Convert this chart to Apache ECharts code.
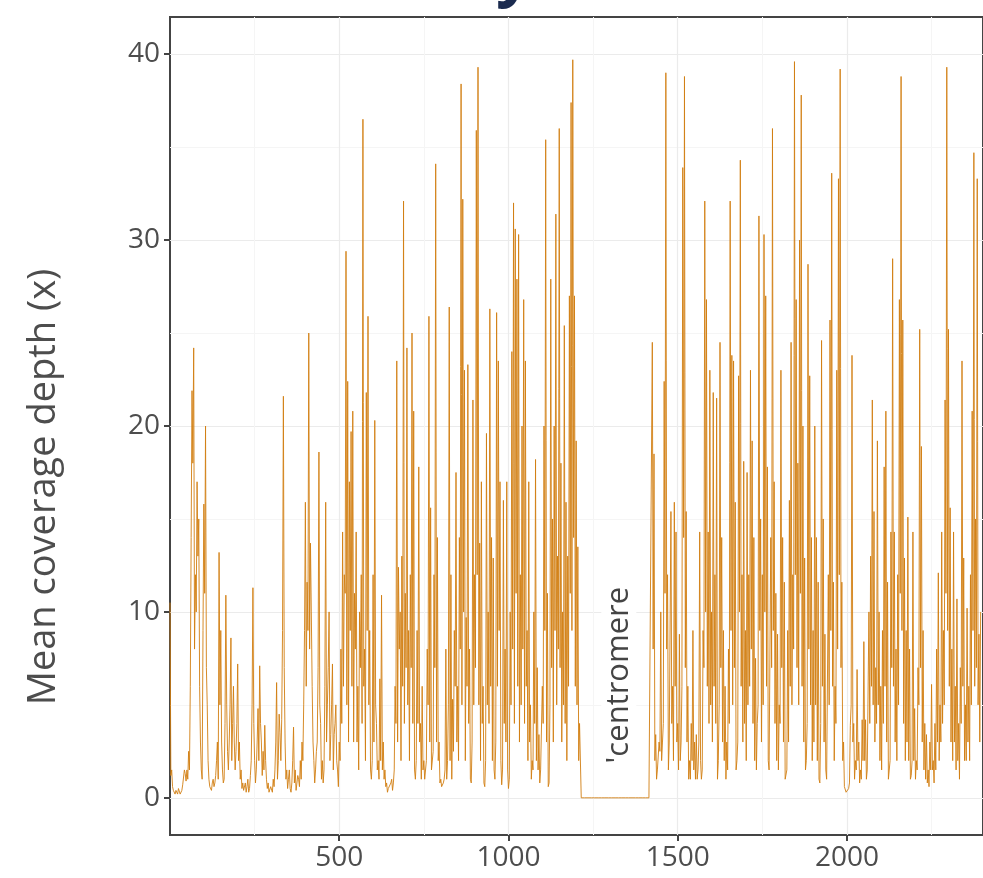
<!DOCTYPE html>
<html>
<head>
<meta charset="utf-8">
<script src="https://cdn.jsdelivr.net/npm/echarts@6/dist/echarts.min.js"></script>
<style>
html, body { margin: 0; padding: 0; background: #fff; }
#chart { width: 983px; height: 878px; }
</style>
</head>
<body>
<div id="chart"></div>
<script>
// bins are 5 units apart, with a read-off value half way between each pair
var binStep = 5;

// short arm, bins 0 .. 1210
var pArmDepth = [
	10.5, 1.5, 0.4, 0.2, 0.3, 0.5, 0.2, 0.4, 0.8, 1.3,
	1.5, 2.5, 6, 21.9, 24.2, 12, 17, 15, 3, 1,
	15.8, 20, 5, 1, 0.5, 0.8, 0.6, 1.2, 3, 13.2,
	9, 1.5, 1, 10.9, 2.5, 3, 8.6, 4, 3, 2.5,
	7.2, 3, 1.5, 0.8, 0.5, 0.3, 1, 0.5, 2, 11.3,
	2, 1.5, 4.8, 7.1, 3, 2.5, 3.9, 1, 0.8, 0.4,
	0.5, 1, 1.5, 6.2, 2, 3.5, 4.2, 21.6, 3, 1.5,
	1, 0.5, 0.8, 3.8, 1.5, 0.5, 1, 2, 3, 5,
	15.9, 11.6, 25, 13.7, 6, 2, 1.5, 3, 18.6, 4,
	2, 1.5, 15.9, 5, 10, 3.4, 7.2, 3.4, 5, 1.5,
	3, 8, 14.3, 12, 29.4, 22.4, 17, 19.7, 20.8, 11,
	14.3, 6, 10, 12, 36.5, 8, 21.8, 25.9, 9, 1,
	12, 20.3, 4, 2, 6.4, 10.9, 3, 1.5, 0.8, 0.5,
	0.6, 1, 0.8, 6, 23.5, 12.4, 10, 13, 32.1, 11,
	24.2, 9, 12, 25, 20.8, 1, 9, 17.8, 4, 6,
	2, 1, 8, 25.9, 15.6, 1.5, 12, 34.1, 14, 3,
	1, 0.5, 1, 8, 2, 26.4, 12, 5.3, 9, 17.5,
	6, 14, 38.4, 32.2, 23, 9.7, 23.3, 8, 0.8, 21.4,
	12, 35.9, 39.3, 13.7, 17, 6, 0.6, 19.6, 10, 26.3,
	14, 12.9, 1, 26.1, 23.5, 17, 0.7, 16, 8, 17,
	0.5, 10, 24, 32, 30.6, 27.9, 30.3, 12, 20, 26.8,
	23.5, 9, 17, 5, 2, 10, 18.2, 7, 3.4, 1.5,
	6, 20, 35.4, 11, 0.8, 27.9, 15, 20, 31.4, 13,
	36, 18, 10, 25.4, 15.9, 13, 27, 37.4, 39.7, 27,
	19.2, 13.5, 4
];
// short arm, half-way bins 2.5 .. 1207.5
var pArmMid = [
	1.2, 0.6, 0.3, 0.4, 0.2, 0.6, 0.3, 0.7, 1.5, 0.9,
	1, 1.5, 14, 18, 8, 10, 13, 6, 1.5, 9,
	11, 7, 2, 0.6, 0.4, 1, 0.8, 2, 1, 5,
	3, 0.8, 4, 5, 1.5, 5, 2, 6, 1.5, 4,
	2, 1, 0.5, 0.4, 0.8, 0.6, 0.3, 1.2, 5, 4,
	0.8, 3, 2, 4, 1.2, 1.5, 2, 0.5, 0.3, 0.6,
	0.3, 0.6, 3, 1, 4.5, 2, 9, 7, 1, 0.5,
	1.5, 0.3, 2, 0.8, 0.4, 1.2, 0.6, 1, 2, 9,
	6, 9, 8, 10, 3, 0.8, 2.5, 7, 5, 1,
	0.8, 6, 3, 7, 2, 5, 1.5, 4, 2, 0.6,
	2, 4, 6, 11, 5, 3, 9, 6, 3, 8,
	3, 1.5, 7, 4, 6, 2, 9, 5, 1.5, 2,
	3, 5, 1.5, 1, 2, 1.5, 1, 0.6, 0.3, 0.4,
	0.8, 0.4, 1.5, 4, 3, 8, 2, 6, 4, 7,
	5, 2, 7, 4, 1.5, 2, 4, 3, 1, 1.5,
	1, 2, 5, 3, 1.5, 2.5, 7, 3, 2, 0.8,
	0.6, 0.8, 1.5, 1, 5, 2, 1, 2.5, 6, 3,
	2, 8, 5, 10, 2, 6, 4, 1, 3, 5,
	7, 12, 5, 2, 4, 0.8, 2, 5, 4, 6,
	2, 1.5, 3, 6, 9, 2, 1.5, 4, 3, 1.5,
	1, 5, 8, 4, 11, 6, 3, 5, 8, 4,
	6, 2, 3, 1, 1.5, 4, 2, 1.5, 0.8, 1.5,
	4, 9, 3, 0.6, 5, 7, 3, 9, 5, 8,
	7, 3, 5, 4, 2, 6, 11, 9, 14, 6,
	5, 2
];

// centromere gap, bins 1215 .. 1420 (no coverage)
var centromereDepth = [
	0, 0, 0, 0, 0, 0, 0, 0, 0, 0, 0, 0, 0, 0,
	0, 0, 0, 0, 0, 0, 0, 0, 0, 0, 0, 0, 0, 0,
	0, 0, 0, 0, 0, 0, 0, 0, 0, 0, 0, 0, 0, 0
];

// long arm, bins 1425 .. 2395
var qArmDepth = [
	24.5, 18.5, 3.4, 1.5, 3,
	10, 3, 22.4, 39, 12, 3, 15.4, 6, 15.9, 14.3,
	4, 8.8, 3, 33.9, 38.8, 15.4, 6, 2, 4, 9,
	3, 3.4, 1.5, 14.3, 1, 9, 32.1, 26.8, 14.3, 23,
	10, 21.8, 12, 21.5, 2, 24.5, 14, 9, 6, 3,
	8, 32.1, 23.8, 23.5, 15.9, 2, 22.7, 34.3, 12, 18.1,
	9, 17.5, 12, 23, 19.2, 14, 7.5, 4, 31.3, 15,
	12, 30.3, 27, 17.8, 1.5, 14, 36, 17, 11, 8.8,
	5, 23, 14, 11.6, 1, 9, 16, 24.5, 12, 39.6,
	26.8, 18, 30, 37.8, 20, 12.9, 2, 28.7, 22.7, 14,
	9, 20, 14, 11.6, 0.8, 24.6, 15, 8.8, 1, 12,
	25.7, 33.6, 11.6, 6, 23, 33.3, 39.2, 11.6, 3, 0.5,
	0.2, 0.5, 3.9, 23.8, 4, 2, 6.9, 3, 1.5, 4.2,
	8.4, 4.2, 1.5, 10, 13, 21.4, 15.4, 7, 19.2, 10,
	6, 9, 17.8, 20.8, 11.6, 1, 14.3, 29, 14.3, 8,
	12, 26.8, 38.8, 25.7, 12.9, 9, 15.1, 8, 1.2, 14.3,
	4.8, 2, 7, 25.2, 18.9, 9, 4, 3.4, 1.5, 3,
	6.1, 2, 4, 8, 12.1, 5, 14.3, 9, 21.4, 39.3,
	25.2, 15.6, 8, 14.3, 6, 10.7, 4, 7, 23.5, 12.9,
	5, 10.2, 6, 12, 20.8, 34.7, 15, 33.3, 8.8, 10
];
// long arm, half-way bins 1427.5 .. 2392.5
var qArmMid = [
	8, 2, 1, 1.5, 2.5,
	2, 4, 11, 8, 1.5, 3, 4, 2, 6, 3,
	1.5, 2, 6, 14, 7, 3, 1, 1, 2, 1.5,
	1, 1, 3, 2, 1.5, 7, 10, 6, 4, 5,
	3, 6, 4, 1, 5, 7, 3, 2, 1, 1.5,
	4, 9, 5, 7, 1.5, 3, 10, 6, 3, 4,
	2, 5, 6, 8, 4, 2, 1.5, 5, 9, 3,
	5, 10, 6, 2, 1.5, 7, 9, 4, 2, 1.5,
	4, 7, 3, 1, 1.5, 3, 6, 5, 8, 12,
	7, 5, 11, 6, 3, 1.5, 4, 8, 5, 2,
	3, 5, 2, 1, 4, 6, 3, 1.5, 1, 5,
	9, 6, 2, 4, 8, 12, 7, 2, 0.6, 0.3,
	0.2, 0.8, 5, 3, 1, 1.5, 2, 0.8, 1, 2,
	2, 1, 1.5, 4, 6, 5, 3, 4, 5, 2,
	1.5, 4, 6, 3, 1, 2, 7, 6, 3, 2,
	5, 11, 9, 4, 2, 3, 2, 1, 2, 2,
	1, 1.5, 5, 7, 3, 1.5, 1, 0.8, 0.6, 1.5,
	1.5, 0.8, 1.5, 3, 2, 3, 4, 5, 11, 9,
	6, 3, 2, 3, 1.5, 2, 1, 4, 6, 2,
	2, 3, 2, 5, 9, 6, 7, 5, 3
];

var yTicks = [0, 10, 20, 30, 40];
var yMinorTicks = [5, 15, 25, 35];
var xTicks = [500, 1000, 1500, 2000];
var xMinorTicks = [250, 750, 1250, 1750, 2250];
var centromereLabel = "'centromere";

var pArmStart = 0;
var centromereStart = 1215;
var qArmStart = 1425;

// weave bins and half-way values into one line
function armPoints(start, vals, mids, out) {
	for (var i = 0; i < vals.length; i++) {
		out.push([start + i * binStep, vals[i]]);
		if (i < mids.length) {
			out.push([start + i * binStep + binStep / 2, mids[i]]);
		}
	}
}
var lineData = [];
armPoints(pArmStart, pArmDepth, pArmMid, lineData);
armPoints(centromereStart, centromereDepth, [], lineData);
armPoints(qArmStart, qArmDepth, qArmMid, lineData);

var labelFont = 'Open Sans';
var plainNum = function(v) { return String(v); };

var chart = echarts.init(document.getElementById('chart'));
chart.setOption({
	animation: false,
	backgroundColor: '#fff',
	graphic: [{
		// bottom of the cut-off title
		type: 'text',
		x: 496,
		y: -57,
		style: {
			text: 'y',
			font: 'bold 64px "Open Sans"',
			fill: '#1b2b4f'
		}
	}, {
		type: 'text',
		x: 44,
		y: 487,
		rotation: Math.PI / 2,
		style: {
			text: 'Mean coverage depth (x)',
			font: '38px "Open Sans"',
			fill: '#4d4d4d',
			align: 'center',
			verticalAlign: 'middle',
			textAlign: 'center',
			textVerticalAlign: 'middle'
		}
	}],
	grid: {
		left: 170,
		right: -3,
		top: 17,
		bottom: 43,
		show: true,
		backgroundColor: '#fff',
		borderColor: '#444',
		borderWidth: 2
	},
	xAxis: [{
		type: 'value',
		min: 0,
		max: 2402,
		axisLine: { show: false, onZero: false },
		axisTick: {
			show: true,
			length: 6,
			customValues: xTicks,
			lineStyle: { color: '#444', width: 2 }
		},
		axisLabel: {
			customValues: xTicks,
			formatter: plainNum,
			margin: 9,
			color: '#4d4d4d',
			fontFamily: labelFont,
			fontSize: 28
		},
		splitLine: { show: true, lineStyle: { color: '#ebebeb', width: 1.2 } }
	}, {
		type: 'value',
		min: 0,
		max: 2402,
		position: 'bottom',
		axisLine: { show: false, onZero: false },
		axisTick: { show: false, customValues: xMinorTicks },
		axisLabel: { show: false },
		splitLine: { show: true, lineStyle: { color: '#f5f5f5', width: 1 } }
	}],
	yAxis: [{
		type: 'value',
		min: -2,
		max: 42,
		axisLine: { show: false, onZero: false },
		axisTick: {
			show: true,
			length: 6,
			customValues: yTicks,
			lineStyle: { color: '#444', width: 2 }
		},
		axisLabel: {
			customValues: yTicks,
			formatter: plainNum,
			margin: 10,
			color: '#4d4d4d',
			fontFamily: labelFont,
			fontSize: 28
		},
		splitLine: { show: true, lineStyle: { color: '#ebebeb', width: 1.2 } }
	}, {
		type: 'value',
		min: -2,
		max: 42,
		position: 'left',
		axisLine: { show: false, onZero: false },
		axisTick: { show: false, customValues: yMinorTicks },
		axisLabel: { show: false },
		splitLine: { show: true, lineStyle: { color: '#f5f5f5', width: 1 } }
	}],
	series: [{
		type: 'line',
		data: lineData,
		showSymbol: false,
		lineStyle: { color: '#d27e12', width: 1, opacity: 0.9 },
		markPoint: {
			symbol: 'circle',
			symbolSize: 0,
			data: [{ coord: [1326, 6.6] }],
			label: {
				show: true,
				formatter: centromereLabel,
				rotate: 90,
				position: 'inside',
				color: '#444',
				fontFamily: labelFont,
				fontSize: 31,
				backgroundColor: '#fff',
				padding: [2, 6]
			}
		}
	}]
});
</script>
</body>
</html>
